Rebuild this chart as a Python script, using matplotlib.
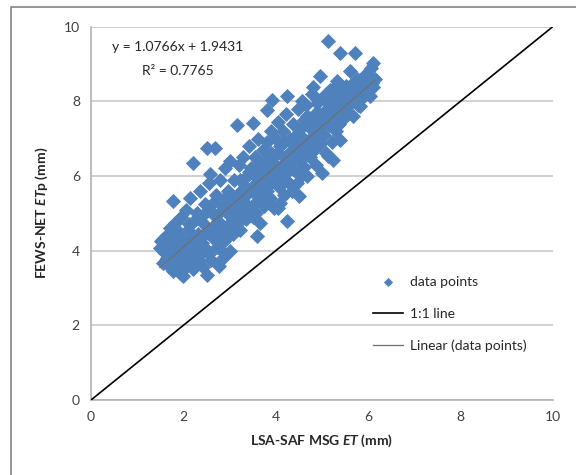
import numpy as np
import matplotlib
matplotlib.use("Agg")
import matplotlib.pyplot as plt
from matplotlib.lines import Line2D

plt.rcParams['font.family'] = ['Lato', 'DejaVu Sans']
plt.rcParams['mathtext.fontset'] = 'custom'
plt.rcParams['mathtext.it'] = 'Lato:italic:bold'
plt.rcParams['mathtext.rm'] = 'Lato:bold'

# LSA-SAF MSG ET (x) vs FEWS-NET ETp (y)
lsa_et = [1.49, 1.56, 1.52, 1.58, 1.62, 1.65, 1.68, 1.70, 1.72, 1.75, 1.78, 1.80, 1.77, 1.82, 1.85, 1.88, 1.90, 1.93, 1.95, 1.97,
          2.00, 2.02, 2.05, 2.07, 2.10, 2.12, 2.15, 2.17, 2.20, 2.21, 2.23, 2.25, 2.28, 2.30, 2.32, 2.35, 2.37, 2.40, 2.42, 2.45, 2.47, 2.50, 2.50, 2.52, 2.55, 2.57, 2.58,
          2.60, 2.62, 2.65, 2.68, 2.70, 2.72, 2.75, 2.78, 2.80, 2.82, 2.85, 2.86, 2.88, 2.90, 2.92, 2.95, 2.97, 3.00, 3.00,
          3.03, 3.05, 3.08, 3.10, 3.12, 3.15, 3.17, 3.20, 3.22, 3.25, 3.27, 3.30, 3.32, 3.35, 3.37, 3.40, 3.42, 3.45, 3.47, 3.50, 3.51,
          3.53, 3.55, 3.57, 3.59, 3.60, 3.62, 3.64, 3.66, 3.68, 3.70, 3.72, 3.75, 3.77, 3.80, 3.80, 3.82, 3.85, 3.87, 3.90, 3.91, 3.92, 3.95, 3.97, 4.00,
          4.02, 4.05, 4.05, 4.07, 4.09, 4.10, 4.12, 4.15, 4.17, 4.20, 4.22, 4.24, 4.24, 4.25, 4.27, 4.30, 4.32, 4.35, 4.37, 4.40, 4.42, 4.45, 4.47, 4.50, 4.50,
          4.52, 4.55, 4.56, 4.58, 4.60, 4.62, 4.65, 4.67, 4.70, 4.72, 4.75, 4.78, 4.80, 4.81, 4.83, 4.85, 4.88, 4.90, 4.92, 4.95, 4.96, 4.99, 5.00,
          5.02, 5.04, 5.06, 5.08, 5.10, 5.12, 5.14, 5.15, 5.18, 5.21, 5.22, 5.24, 5.26, 5.28, 5.30, 5.33, 5.35, 5.36, 5.39, 5.39, 5.42, 5.44, 5.46, 5.48,
          5.52, 5.55, 5.58, 5.61, 5.63, 5.66, 5.68, 5.71, 5.73, 5.76, 5.78, 5.82, 5.84, 5.86, 5.90, 5.93, 5.96, 6.00, 6.03, 6.06, 6.11, 6.11, 6.15,
          1.55, 1.63, 1.73, 1.83, 1.87, 1.98, 2.03, 2.08, 2.13, 2.18, 2.27, 2.33, 2.38, 2.43, 2.48, 2.53, 2.56, 2.63, 2.67, 2.73,
          2.77, 2.83, 2.89, 2.93, 2.98, 3.06, 3.13, 3.18, 3.23, 3.28, 3.33, 3.38, 3.43, 3.48, 3.54, 3.58, 3.63, 3.69, 3.74, 3.79,
          3.84, 3.89, 3.94, 3.99, 4.04, 4.08, 4.13, 4.18, 4.23, 4.28, 4.33, 4.38, 4.43, 4.48, 4.53, 4.57, 4.63, 4.68, 4.73, 4.79,
          4.84, 4.89, 4.94, 5.03, 5.09, 5.16, 5.23, 5.31, 5.38, 5.45, 5.53, 5.60, 5.69, 5.79, 5.88, 5.98, 6.08]
fews_etp = [4.07, 3.66, 4.25, 3.95, 4.40, 3.80, 4.15, 3.55, 4.60, 3.90, 5.32, 4.30, 3.45, 4.75, 3.70, 4.05, 4.50, 3.40, 4.90, 3.85,
            3.31, 4.20, 5.10, 3.60, 4.55, 3.95, 5.40, 4.30, 3.50, 6.35, 4.80, 4.05, 3.70, 5.00, 4.45, 3.90, 5.60, 4.20, 3.55, 4.70, 5.25, 3.35, 6.75, 4.00, 5.80, 4.50, 6.05,
            3.75, 5.00, 4.35, 6.75, 5.50, 4.10, 4.80, 3.60, 5.90, 4.55, 5.20, 3.80, 4.25, 6.20, 5.05, 4.65, 5.60, 4.00, 6.40,
            4.90, 5.45, 4.45, 5.90, 5.15, 7.37, 4.70, 6.30, 4.56, 5.60, 5.00, 6.50, 5.30, 4.85, 6.00, 5.55, 6.80, 5.10, 6.20, 4.90, 7.42,
            5.75, 6.50, 5.30, 4.38, 6.10, 7.00, 5.55, 4.74, 6.35, 5.90, 6.70, 5.20, 6.05, 7.77, 5.60, 6.90, 6.30, 5.40, 7.20, 8.04, 5.85, 6.55, 5.15, 7.00,
            6.20, 5.14, 7.45, 5.70, 5.27, 6.80, 6.00, 7.20, 5.50, 6.50, 7.65, 4.78, 8.13, 6.10, 5.85, 7.00, 6.40, 5.60, 7.40, 6.15, 6.75, 5.80, 7.80, 6.45, 5.45,
            7.10, 6.00, 8.00, 6.70, 7.50, 6.25, 7.90, 5.99, 6.90, 7.30, 6.50, 8.20, 7.00, 8.37, 6.70, 7.60, 6.30, 7.95, 7.25, 6.85, 8.67, 6.08, 7.55,
            8.10, 7.10, 8.04, 6.60, 7.80, 6.52, 9.61, 7.35, 8.30, 7.51, 6.90, 6.43, 8.00, 7.65, 7.20, 8.55, 8.45, 7.40, 9.29, 6.97, 7.90, 8.20, 7.82, 7.55,
            8.40, 7.70, 8.00, 8.80, 7.95, 8.25, 7.60, 9.29, 8.10, 8.60, 7.90, 7.86, 8.30, 8.49, 8.15, 8.70, 8.35, 8.55, 8.13, 8.90, 9.03, 8.37, 8.60,
            4.30, 3.75, 4.00, 4.40, 3.60, 4.30, 3.80, 4.00, 4.70, 3.90, 4.30, 3.75, 4.90, 4.40, 4.05, 5.10, 3.90, 4.60, 5.30, 4.45,
            5.00, 4.00, 5.40, 4.35, 5.20, 5.00, 4.80, 5.40, 5.90, 5.45, 5.70, 5.20, 6.10, 5.60, 6.00, 5.00, 6.30, 5.80, 6.40, 5.40,
            6.10, 6.60, 6.00, 6.30, 6.60, 5.90, 6.30, 6.90, 6.20, 6.60, 6.90, 6.50, 7.10, 6.80, 6.40, 7.30, 6.90, 7.60, 7.00, 7.40,
            7.20, 7.70, 7.30, 7.60, 8.20, 7.80, 8.10, 7.90, 8.20, 8.00, 8.10, 8.40, 8.20, 8.50, 8.40, 8.70, 8.50]

slope = 1.0766
intercept = 1.9431
r2 = 0.7765

x_ticks = [0, 2, 4, 6, 8, 10]
y_ticks = [0, 2, 4, 6, 8, 10]

fig = plt.figure(figsize=(5.76, 4.75), dpi=100)
ax = fig.add_axes([91/576, 1-400/475, 462/576, 373.5/475])

# outer chart border (only left and top visible in the crop)
bx = 11/576
by = 1 - 6.5/475
fig.add_artist(Line2D([bx, bx, 1.01], [-0.01, by, by], transform=fig.transFigure,
                      color='#8c8c8c', lw=1.3))

ax.plot(lsa_et, fews_etp, 'D', color='#4F81BD', ms=7.4, mec='#4F81BD', mew=0.6,
        label='data points', zorder=3)
ax.plot([0, 10], [0, 10], color='black', lw=1.2, label='1:1 line', zorder=4)
xt = np.array([min(lsa_et), max(lsa_et)])
ax.plot(xt, slope*xt + intercept, color='#6f6f6f', lw=0.9,
        label='Linear (data points)', zorder=4)

ax.set_xlim(0, 10)
ax.set_ylim(0, 10)
ax.set_xticks(x_ticks)
ax.set_yticks(y_ticks)
ax.tick_params(length=0, labelsize=10, colors='#404040', pad=8)
ax.grid(axis='y', color='#c8c8c8', lw=1.2)
ax.set_axisbelow(True)
for s in ['top', 'right']:
    ax.spines[s].set_visible(False)
for s in ['left', 'bottom']:
    ax.spines[s].set_color('#b0b0b0')
    ax.spines[s].set_linewidth(1.2)

ax.set_xlabel('LSA-SAF MSG $ET$ (mm)', fontsize=10, fontweight='bold', color='#262626', labelpad=7)
ax.set_ylabel('FEWS-NET $ET$p (mm)', fontsize=10, fontweight='bold', color='#262626', labelpad=10)

ax.text(1.88, 9.44, 'y = %.4fx + %.4f' % (slope, intercept),
        ha='center', va='center', fontsize=10, color='#262626')
ax.text(1.88, 8.80, 'R² = %.4f' % r2,
        ha='center', va='center', fontsize=10, color='#262626')

leg = ax.legend(loc='upper left', bbox_to_anchor=(0.61, 0.331), frameon=False,
                fontsize=10, handlelength=2.2, handletextpad=0.5, labelspacing=1.4,
                borderaxespad=0, borderpad=0, markerscale=0.6)
for t in leg.get_texts():
    t.set_color('#262626')

plt.savefig('out.png', dpi=100)
